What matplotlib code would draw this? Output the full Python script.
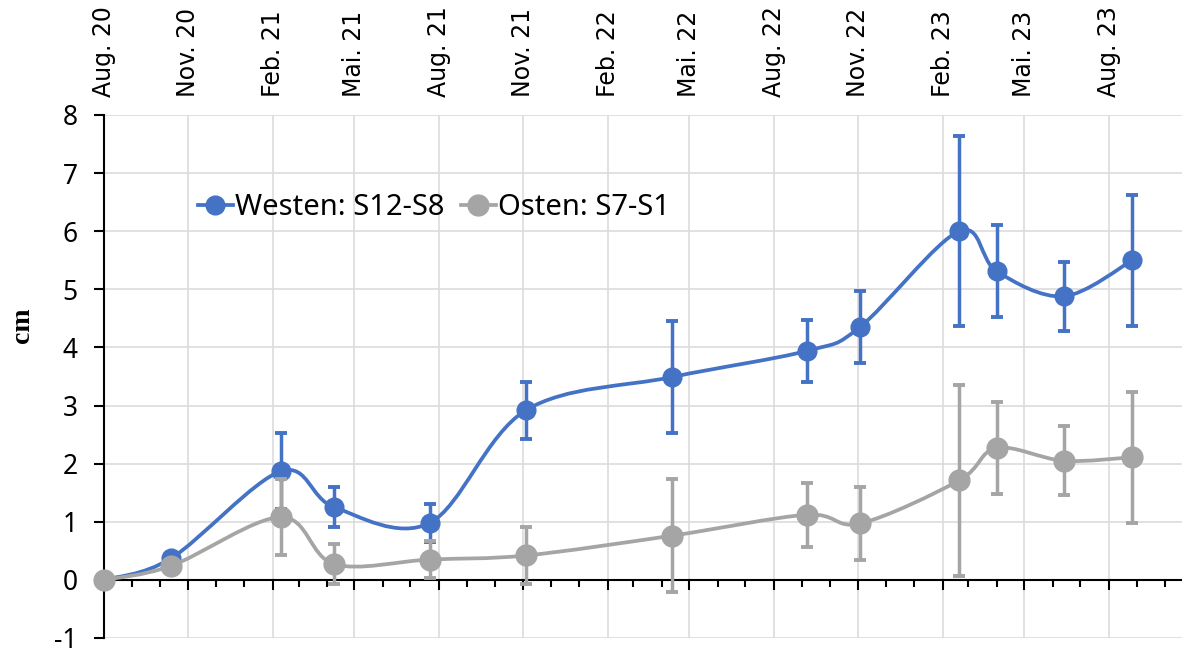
import numpy as np
import matplotlib.pyplot as plt
import matplotlib.dates as mdates
from matplotlib.path import Path
from matplotlib.patches import PathPatch
from matplotlib.lines import Line2D

plt.rcParams['axes.unicode_minus'] = False

# measurement dates and values (cm)
dates = ['2020-08-01', '2020-10-13', '2021-02-10', '2021-04-09', '2021-07-22',
         '2021-11-04', '2022-04-12', '2022-09-06', '2022-11-03', '2023-02-19',
         '2023-04-01', '2023-06-13', '2023-08-27']
west = [0, 0.37, 1.87, 1.25, 0.98, 2.92, 3.49, 3.94, 4.35, 6.0, 5.31, 4.88, 5.5]
west_err = [0, 0, 0.65, 0.34, 0.33, 0.49, 0.96, 0.54, 0.62, 1.64, 0.79, 0.59, 1.13]
east = [0, 0.24, 1.08, 0.27, 0.35, 0.42, 0.76, 1.12, 0.97, 1.71, 2.27, 2.05, 2.11]
east_err = [0, 0, 0.65, 0.34, 0.32, 0.49, 0.97, 0.55, 0.63, 1.65, 0.79, 0.59, 1.13]

tick_dates = ['2020-08-01', '2020-11-01', '2021-02-01', '2021-05-01', '2021-08-01',
              '2021-11-01', '2022-02-01', '2022-05-01', '2022-08-01', '2022-11-01',
              '2023-02-01', '2023-05-01', '2023-08-01']
tick_labels = ['Aug. 20', 'Nov. 20', 'Feb. 21', 'Mai. 21', 'Aug. 21', 'Nov. 21',
               'Feb. 22', 'Mai. 22', 'Aug. 22', 'Nov. 22', 'Feb. 23', 'Mai. 23', 'Aug. 23']
labels = ['Westen: S12-S8', 'Osten: S7-S1']

BLUE = '#4472C4'
GRAY = '#A5A5A5'


def smooth_path(x, y):
    # bezier curve through the points, like the "smoothed line" option in Excel
    p = np.column_stack([x, y])
    n = len(p)
    verts = [p[0]]
    codes = [Path.MOVETO]
    for i in range(n - 1):
        p0 = p[max(i - 1, 0)]
        p1 = p[i]
        p2 = p[i + 1]
        p3 = p[min(i + 2, n - 1)]
        verts += [p1 + (p2 - p0) / 6, p2 - (p3 - p1) / 6, p2]
        codes += [Path.CURVE4] * 3
    return Path(verts, codes)


x = mdates.date2num(np.array(dates, dtype='datetime64[D]'))

fig = plt.figure(figsize=(11.82, 6.54), dpi=100)
ax = fig.add_axes([0.088, 0.0245, 0.912, 0.7997])

z = 3
for vals, errs, col, ms in [(west, west_err, BLUE, 13.5), (east, east_err, GRAY, 15)]:
    ax.add_patch(PathPatch(smooth_path(x, vals), fill=False, edgecolor=col,
                           lw=2.7, zorder=z, capstyle='round'))
    ax.errorbar(x, vals, yerr=errs, fmt='none', ecolor=col, elinewidth=2.5,
                capsize=4, capthick=2.8, zorder=z + 0.5)
    ax.plot(x, vals, ls='none', marker='o', ms=ms, color=col, zorder=z + 1,
            clip_on=False)
    z += 2

ax.set_xlim(mdates.date2num(np.datetime64('2020-08-01')),
            mdates.date2num(np.datetime64('2023-10-20')))
ax.set_ylim(-1, 8)
ax.set_yticks(range(-1, 9))

ax.set_xticks(mdates.date2num(np.array(tick_dates, dtype='datetime64[D]')))
ax.set_xticklabels(tick_labels)
ax.xaxis.set_minor_locator(mdates.MonthLocator())
ax.tick_params(axis='x', which='both', top=False, bottom=True, labeltop=True,
               labelbottom=False, direction='out', width=1.5, color='black')
ax.tick_params(axis='x', which='major', length=7, pad=6, labelrotation=90,
               labelsize=17)
ax.tick_params(axis='x', which='minor', length=5)
for tick in ax.xaxis.get_major_ticks():
    tick.label2.set_family('Liberation Sans')
    tick.label2.set_color('#1a1a1a')
ax.tick_params(axis='y', direction='out', length=7, width=1.5, labelsize=19, pad=12)
for t in ax.get_yticklabels():
    t.set_family('Noto Sans')

ax.spines['bottom'].set_position(('data', 0))
ax.spines['bottom'].set_linewidth(1.5)
ax.spines['left'].set_linewidth(1.5)
ax.spines['top'].set_visible(False)
ax.spines['right'].set_visible(False)
ax.grid(True, which='major', color='#dcdcdc', lw=1.2)
ax.set_axisbelow(True)

fig.text(0.019, 0.503, 'cm', rotation=90, family='Liberation Serif',
         weight='bold', size=20, va='center', ha='center')

handles = [Line2D([], [], color=BLUE, lw=2.7, marker='o', ms=13.5),
           Line2D([], [], color=GRAY, lw=2.7, marker='o', ms=15)]
ax.legend(handles, labels, ncol=2, frameon=False, loc='center left',
          bbox_to_anchor=(0.087, 0.823), handlelength=1.2, handletextpad=0.08,
          columnspacing=0.55, borderpad=0, borderaxespad=0,
          prop={'family': 'Noto Sans', 'size': 21})

fig.savefig('out.png', dpi=100)
